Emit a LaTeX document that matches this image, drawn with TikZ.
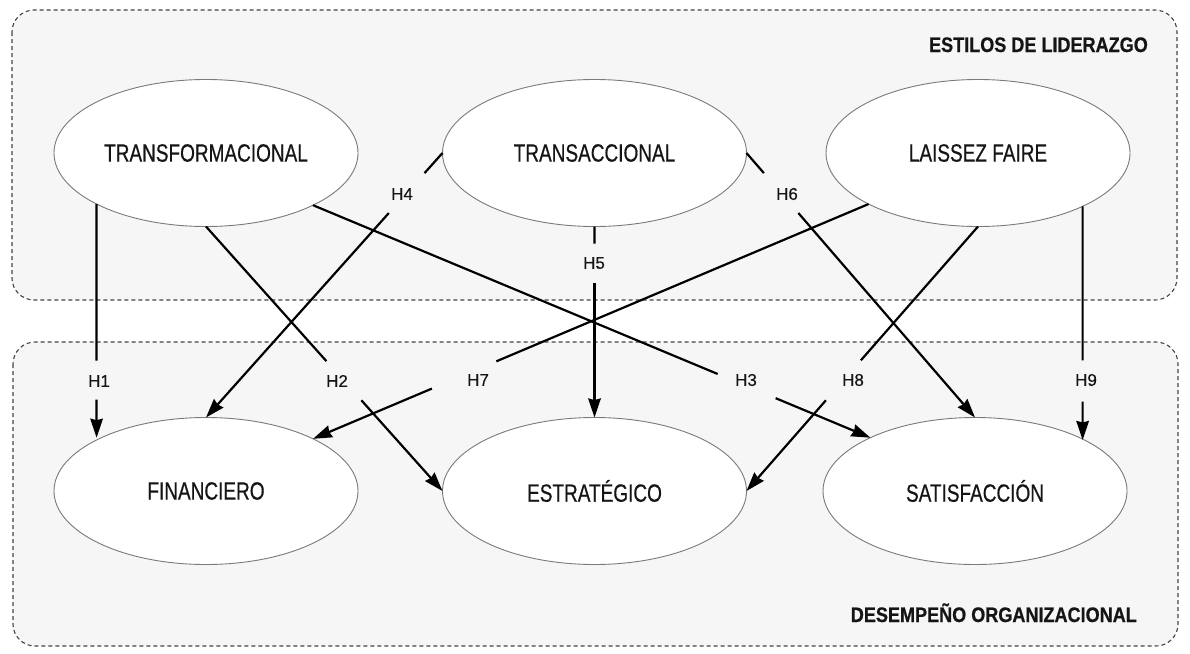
\documentclass[tikz,border=0pt]{standalone}
\usepackage{fontspec}
\setmainfont{Liberation Sans}
\newfontfamily\condfont{Liberation Sans}[FakeStretch=0.76,FakeBold=0.5]
\newfontfamily\hypfont{Liberation Sans}[FakeBold=0.3]
\newfontfamily\titlefont{Liberation Sans}[FakeStretch=0.86,FakeBold=0.6]
\usetikzlibrary{shapes.geometric,arrows.meta,calc}
\definecolor{boxbg}{HTML}{F6F6F6}
\definecolor{boxline}{HTML}{444444}
\definecolor{ellline}{HTML}{7A7A7A}
\definecolor{txt}{HTML}{151515}
\tikzset{
  groupbox/.style={draw=boxline, fill=boxbg, line width=1.1pt, dash pattern=on 4pt off 3pt, rounded corners=22pt},
  latent/.style={ellipse, draw=ellline, fill=white, line width=0.9pt, minimum width=304pt, minimum height=147pt, inner sep=0pt, outer sep=0pt, font=\condfont\fontsize{25}{30}\selectfont, text=txt},
  hyp/.style={font=\hypfont\fontsize{17}{20}\selectfont, text=txt, inner sep=0pt},
  grouptitle/.style={font=\titlefont\bfseries\fontsize{21}{25}\selectfont, text=txt, inner sep=0pt},
  conn/.style={line width=2.2pt, black},
  arr/.style={conn, -{Stealth[length=19pt,width=12.5pt,inset=1.5pt]}}
}
\begin{document}
\begin{tikzpicture}[x=1pt,y=-1pt]
\useasboundingbox (0,0) rectangle (1190,653);
% group boxes
\draw[groupbox] (12,10) rectangle (1177,300);
\draw[groupbox] (13,342) rectangle (1178,646);
\node[grouptitle, anchor=base east] (t1) at (1148,52) {ESTILOS DE LIDERAZGO};
\node[grouptitle, anchor=base east] (t2) at (1137,622) {DESEMPEÑO ORGANIZACIONAL};
% latent variables
\node[latent] (tf) at (206,153) {TRANSFORMACIONAL};
\node[latent] (ta) at (594.5,153) {TRANSACCIONAL};
\node[latent] (lf) at (978,153) {LAISSEZ FAIRE};
\node[latent] (fi) at (206,491) {FINANCIERO};
\node[latent] (es) at (594.5,491) {ESTRATÉGICO};
\node[latent] (sa) at (975,491) {SATISFACCIÓN};
% connectors (start, end, gap from p1 to p2)
\coordinate (s1) at (tf.205.9); \coordinate (e1) at (s1 |- fi.153.7);
\coordinate (s2) at (tf.south); \coordinate (e2) at (es.west);
\coordinate (s3) at (tf.334.1); \coordinate (e3) at (sa.153.9);
\coordinate (s4) at (ta.west);  \coordinate (e4) at (fi.north);
\coordinate (s5) at (ta.south); \coordinate (e5) at (es.north);
\coordinate (s6) at (ta.east);  \coordinate (e6) at (sa.north);
\coordinate (s7) at (lf.205.7); \coordinate (e7) at (fi.26.4);
\coordinate (s8) at (lf.south); \coordinate (e8) at (es.east);
\coordinate (s9) at (lf.333.4); \coordinate (e9) at (s9 |- sa.25.7);
\foreach \i/\pa/\pb in {1/0.670/0.837, 2/0.509/0.657, 3/0.726/0.830, 4/0.076/0.227, 5/0.089/0.298, 6/0.076/0.227, 7/0.670/0.786, 8/0.506/0.657, 9/0.659/0.836}{
  \draw[conn] (s\i) -- ($(s\i)!\pa!(e\i)$);
  \draw[arr] ($(s\i)!\pb!(e\i)$) -- (e\i);
}
% hypothesis labels
\node[hyp] (h1) at (99,381) {H1};
\node[hyp] (h2) at (337,381) {H2};
\node[hyp] (h3) at (746,380) {H3};
\node[hyp] (h4) at (402,194) {H4};
\node[hyp] (h5) at (594,263) {H5};
\node[hyp] (h6) at (787,194) {H6};
\node[hyp] (h7) at (478,380) {H7};
\node[hyp] (h8) at (853,380) {H8};
\node[hyp] (h9) at (1086,380) {H9};
\end{tikzpicture}
\end{document}
